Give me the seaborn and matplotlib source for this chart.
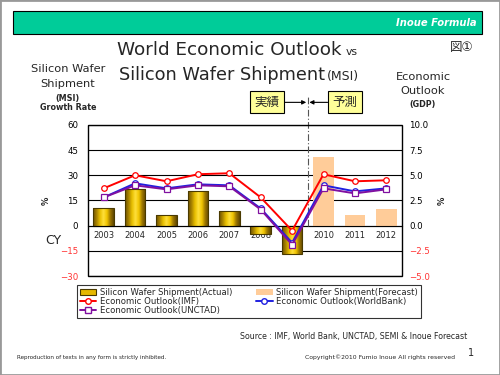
import numpy as np
import pandas as pd
import matplotlib
matplotlib.use("Agg")
import matplotlib.pyplot as plt
import matplotlib.transforms as mtransforms
from matplotlib.colors import LinearSegmentedColormap, to_hex
from matplotlib.patches import Rectangle, Patch
from matplotlib.lines import Line2D
import seaborn as sns

# values
years = ["2003", "2004", "2005", "2006", "2007", "2008", "2009", "2010", "2011", "2012"]
wafer_growth = [10.3, 22.0, 6.4, 20.4, 8.6, -5.1, -16.7, 40.9, 6.2, 9.9]
wafer_kind = ["Actual", "Actual", "Actual", "Actual", "Actual", "Actual", "Actual",
              "Forecast", "Forecast", "Forecast"]
gdp_imf = [3.7, 5.0, 4.4, 5.1, 5.2, 2.8, -0.5, 5.1, 4.4, 4.5]
gdp_worldbank = [2.8, 4.2, 3.7, 4.1, 4.0, 1.7, -1.7, 4.0, 3.4, 3.7]
gdp_unctad = [2.8, 4.0, 3.6, 4.0, 3.9, 1.6, -1.9, 3.7, 3.2, 3.6]
left_ticks = [-30, -15, 0, 15, 30, 45, 60]
right_ticks = [-5.0, -2.5, 0.0, 2.5, 5.0, 7.5, 10.0]

GOLD = "#E6B800"
PEACH = "#FFCC99"
RED = "#FF0000"
BLUE = "#2020E0"
PURPLE = "#8010A0"
NEG = "#FF3333"

sns.set_style("white")
plt.rcParams["font.family"] = ["DejaVu Sans", "Noto Sans CJK JP"]

fig = plt.figure(figsize=(5, 3.75), dpi=100)
ax = fig.add_axes([0.176, 0.264, 0.628, 0.403])

# bars (left axis)
df = pd.DataFrame({"year": years, "growth": wafer_growth, "kind": wafer_kind})
sns.barplot(data=df, x="year", y="growth", hue="kind", dodge=False, width=0.66,
            palette={"Actual": GOLD, "Forecast": PEACH}, saturation=1,
            legend=False, ax=ax)

# cylinder-like shading on the actual bars
cmap_gold = LinearSegmentedColormap.from_list(
    "gold", ["#6e5200", "#a88200", "#e8bf00", "#ffe03c", "#f0c400", "#9a7400", "#5e4600"])
grad = np.linspace(0, 1, 64).reshape(1, -1)
for p in list(ax.patches):
    if to_hex(p.get_facecolor()).lower() == GOLD.lower():
        x0, w = p.get_x(), p.get_width()
        y0, h = p.get_y(), p.get_height()
        im = ax.imshow(grad, extent=[x0, x0 + w, min(y0, y0 + h), max(y0, y0 + h)],
                       aspect="auto", cmap=cmap_gold, interpolation="bilinear",
                       zorder=p.get_zorder() - 0.05)
        im.set_clip_path(p)
        p.set_facecolor("none")
        p.set_edgecolor("#4a3a00")
        p.set_linewidth(0.8)
    else:
        p.set_edgecolor("none")

ax.set_xlim(-0.5, len(years) - 0.5)
ax.set_ylim(left_ticks[0], left_ticks[-1])
ax.set_yticks(left_ticks)
ax.set_yticklabels([f"{v:d}".replace("-", "\u2212") for v in left_ticks])
for lbl, v in zip(ax.get_yticklabels(), left_ticks):
    lbl.set_color(NEG if v < 0 else "black")
ax.set_axisbelow(True)
ax.yaxis.grid(True, color="black", lw=0.8)
ax.xaxis.grid(False)
ax.set_xlabel("")
ax.set_ylabel("")
ax.tick_params(axis="y", length=0, pad=7, labelsize=6.2)
ax.tick_params(axis="x", which="major", length=0, pad=4, labelsize=6)
ax.set_xticks(np.arange(len(years) + 1) - 0.5, minor=True)
ax.tick_params(axis="x", which="minor", length=3, direction="out", color="#555555", width=0.8)
ax.spines["bottom"].set_position(("data", 0))
for s in ["top", "left", "right"]:
    ax.spines[s].set_visible(False)
ax.spines["bottom"].set_color("black")
ax.add_patch(Rectangle((0, 0), 1, 1, transform=ax.transAxes, fill=False,
                       ec="black", lw=1, clip_on=False, zorder=5))

# economic outlook lines (right axis)
ax2 = ax.twinx()
pos = np.arange(len(years))
sns.lineplot(x=pos, y=gdp_imf, ax=ax2, color=RED, lw=1.4, marker="o", markersize=4,
             markerfacecolor="white", markeredgecolor=RED, markeredgewidth=0.9)
sns.lineplot(x=pos, y=gdp_worldbank, ax=ax2, color=BLUE, lw=1.4, marker="o", markersize=4,
             markerfacecolor="white", markeredgecolor=BLUE, markeredgewidth=0.9)
sns.lineplot(x=pos, y=gdp_unctad, ax=ax2, color=PURPLE, lw=1.4, marker="s", markersize=4.5,
             markerfacecolor="white", markeredgecolor=PURPLE, markeredgewidth=0.9)
ax2.set_ylim(right_ticks[0], right_ticks[-1])
ax2.set_yticks(right_ticks)
ax2.set_yticklabels([f"{v:.1f}".replace("-", "\u2212") for v in right_ticks])
for lbl, v in zip(ax2.get_yticklabels(), right_ticks):
    lbl.set_color(NEG if v < 0 else "black")
ax2.tick_params(axis="y", length=0, pad=5, labelsize=6.2)
ax2.grid(False)
ax2.set_ylabel("")
for s in ax2.spines.values():
    s.set_visible(False)
ax.set_xlim(-0.5, len(years) - 0.5)

# actual / forecast divider
split = wafer_kind.index("Forecast") - 0.5
trans = mtransforms.blended_transform_factory(ax.transData, ax.transAxes)
y_zero = (0 - left_ticks[0]) / (left_ticks[-1] - left_ticks[0])
ax.plot([split, split], [y_zero, 1.19], transform=trans, color="#555555", lw=0.8,
        ls=(0, (6, 2, 1, 2)), clip_on=False, zorder=3)
box = dict(boxstyle="square,pad=0.35", fc="#FFFF99", ec="black", lw=0.8)
arrow = dict(arrowstyle="-|>", color="black", lw=0.8, mutation_scale=6, shrinkA=0, shrinkB=0)
ax.annotate("実績", xy=(split - 0.05, 1.149), xytext=(5.2, 1.149), xycoords=trans,
            textcoords=trans, ha="center", va="center", fontsize=9, bbox=box,
            arrowprops=arrow, annotation_clip=False)
ax.annotate("予測", xy=(split + 0.05, 1.149), xytext=(7.68, 1.149), xycoords=trans,
            textcoords=trans, ha="center", va="center", fontsize=9, bbox=box,
            arrowprops=arrow, annotation_clip=False)

# legend
handles = [
    Patch(fc=GOLD, ec="#4a3a00", lw=0.8),
    Line2D([], [], color=RED, lw=1.4, marker="o", ms=4, mfc="white", mec=RED),
    Line2D([], [], color=PURPLE, lw=1.4, marker="s", ms=4.5, mfc="white", mec=PURPLE),
    Patch(fc=PEACH, ec="none"),
    Line2D([], [], color=BLUE, lw=1.4, marker="o", ms=4, mfc="white", mec=BLUE),
]
labels = ["Silicon Wafer Shipment(Actual)", "Economic Outlook(IMF)",
          "Economic Outlook(UNCTAD)", "Silicon Wafer Shipment(Forecast)",
          "Economic Outlook(WorldBank)"]
leg = fig.legend(handles, labels, ncol=2, loc="upper left",
                 bbox_to_anchor=(77 / 500, 1 - 285 / 375), frameon=True, fancybox=False,
                 edgecolor="black", fontsize=6.1, borderpad=0.3, labelspacing=0.05,
                 handlelength=2.0, handletextpad=0.4, columnspacing=2.8, borderaxespad=0)
leg.get_frame().set_linewidth(0.8)

# header and frame
fig.patches.append(Rectangle((0, 0), 1, 1, transform=fig.transFigure, fill=False,
                             ec="#999999", lw=2))
fig.patches.append(Rectangle((13 / 500, 1 - 34 / 375), 469 / 500, 23 / 375,
                             transform=fig.transFigure, fc="#00CC99", ec="black", lw=0.8))
fig.text(477 / 500, 1 - 22.5 / 375, "Inoue Formula", ha="right", va="center",
         color="white", fontsize=7.2, fontweight="bold", fontstyle="italic")

# titles
fig.text(342 / 500, 1 - 55 / 375, "World Economic Outlook", ha="right", va="baseline", fontsize=13.2)
fig.text(346 / 500, 1 - 55 / 375, "vs", ha="left", va="baseline", fontsize=7.8)
fig.text(325 / 500, 1 - 80 / 375, "Silicon Wafer Shipment", ha="right", va="baseline", fontsize=12.8)
fig.text(327 / 500, 1 - 80 / 375, "(MSI)", ha="left", va="baseline", fontsize=9)
fig.text(462 / 500, 1 - 48 / 375, "図①", ha="center", va="center", fontsize=9)

# axis captions
fig.text(68 / 500, 1 - 69 / 375, "Silicon Wafer", ha="center", va="center", fontsize=8.2)
fig.text(68 / 500, 1 - 84 / 375, "Shipment", ha="center", va="center", fontsize=8.2)
fig.text(68 / 500, 1 - 98 / 375, "(MSI)", ha="center", va="center", fontsize=5.8, fontweight="bold")
fig.text(68 / 500, 1 - 108 / 375, "Growth Rate", ha="center", va="center", fontsize=5.8, fontweight="bold")
fig.text(423 / 500, 1 - 77 / 375, "Economic", ha="center", va="center", fontsize=8.2)
fig.text(423 / 500, 1 - 91 / 375, "Outlook", ha="center", va="center", fontsize=8.2)
fig.text(423 / 500, 1 - 105 / 375, "(GDP)", ha="center", va="center", fontsize=5.8, fontweight="bold")
fig.text(46 / 500, 1 - 201 / 375, "%", ha="center", va="center", rotation=90, fontsize=6, fontweight="bold")
fig.text(442 / 500, 1 - 201 / 375, "%", ha="center", va="center", rotation=90, fontsize=6, fontweight="bold")
fig.text(53 / 500, 1 - 240 / 375, "CY", ha="center", va="center", fontsize=9)

# footer
fig.text(240 / 500, 1 - 336 / 375, "Source : IMF, World Bank, UNCTAD, SEMI & Inoue Forecast",
         ha="left", va="center", fontsize=5.7)
fig.text(17 / 500, 1 - 357 / 375, "Reproduction of texts in any form is strictly inhibited.",
         ha="left", va="center", fontsize=4.1)
fig.text(305 / 500, 1 - 357 / 375, "Copyright©2010 Fumio Inoue All rights reserved",
         ha="left", va="center", fontsize=4.4)
fig.text(471 / 500, 1 - 353 / 375, "1", ha="center", va="center", fontsize=7)

fig.savefig("out.png", dpi=100)
